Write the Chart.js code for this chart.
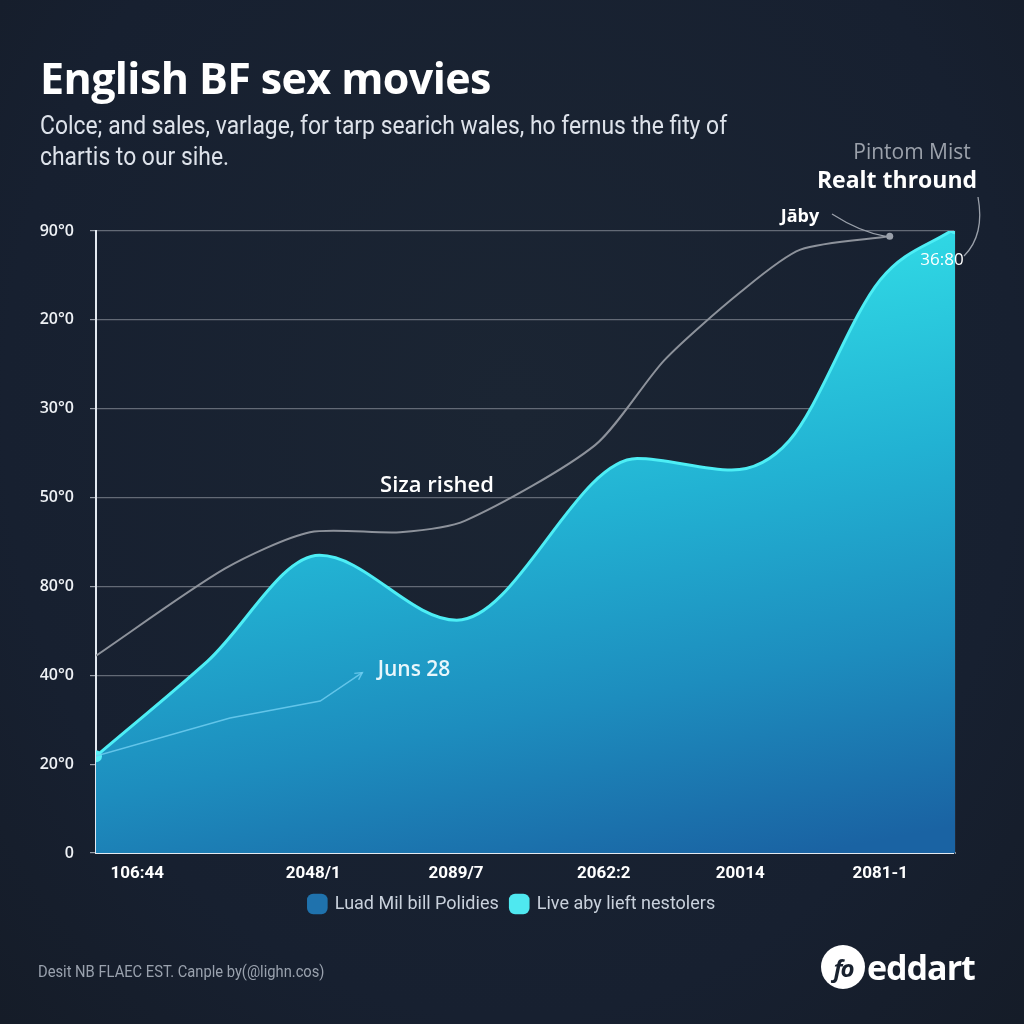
<!DOCTYPE html>
<html>
<head>
<meta charset="utf-8">
<script src="https://cdn.jsdelivr.net/npm/chart.js@4.4.1/dist/chart.umd.min.js"></script>
<style>
  html, body { margin: 0; padding: 0; background: #18212e; }
  #wrap { position: relative; width: 1024px; height: 1024px; overflow: hidden;
          background: radial-gradient(ellipse at 50% 40%, #1b2533 0%, #172030 70%, #151c28 100%); }
  #chart { position: absolute; left: 0; top: 0; }
  .title { position: absolute; left: 40px; top: 48px; color: #ffffff;
           font: 700 43px "Open Sans", sans-serif; letter-spacing: -0.6px; }
  .sub { position: absolute; left: 40px; top: 110px; color: #dde2ea; width: 860px;
         font: 400 26px Roboto, sans-serif; line-height: 31px;
         transform: scaleX(0.88); transform-origin: left top; }
  .foot { position: absolute; left: 38px; top: 962px; color: #9aa2ae;
          font: 400 16px Roboto, sans-serif; transform: scaleX(0.92); transform-origin: left top; }
  .logo { position: absolute; left: 821px; top: 944px; color: #fff; display: flex; align-items: center; }
  .logo .c { width: 44px; height: 44px; border-radius: 50%; background: #fff; color: #18212e;
             font: italic 700 24px "Open Sans", sans-serif; display: flex; align-items: center;
             justify-content: center; letter-spacing: -2px; }
  .logo .t { font: 700 34px "Open Sans", sans-serif; margin-left: 2px; letter-spacing: -1px; }
</style>
</head>
<body>
<div id="wrap">
  <canvas id="chart" width="1024" height="1024"></canvas>
  <div class="title">English BF sex movies</div>
  <div class="sub">Colce; and sales, varlage, for tarp searich wales, ho fernus the fity of<br>chartis to our sihe.</div>
  <div class="foot">Desit NB FLAEC EST. Canple by(@lighn.cos)</div>
  <div class="logo"><div class="c">fo</div><div class="t">eddart</div></div>
</div>
<script>
// Werte
const xTickPos = [0.48, 2.53, 4.19, 5.91, 7.5, 9.13];
const xTickLabels = ['106:44', '2048/1', '2089/7', '2062:2', '20014', '2081-1'];
const yTickLabels = ['0', '20°0', '40°0', '80°0', '50°0', '30°0', '20°0', '90°0'];

const areaX = [0, 1.3, 2.6, 4.2, 6.3, 7.4, 8.07, 9.13, 10];
const areaY = [1.09, 2.16, 3.35, 2.62, 4.44, 4.31, 4.64, 6.45, 7.03];

const greyX = [0, 1.5, 2.49, 3.54, 4.3, 5.81, 6.62, 7.5, 8.2, 9.24];
const greyY = [2.22, 3.2, 3.61, 3.61, 3.74, 4.59, 5.55, 6.31, 6.79, 6.94];

const blueX = [0, 1.56, 2.61, 3.1];
const blueY = [1.09, 1.52, 1.71, 2.03];

const legendNames = ['Luad Mil bill Polidies', 'Live aby lieft nestolers'];
const legendColors = ['#1f72ad', '#4fe8f0'];

const toPts = (xs, ys) => xs.map((x, i) => ({ x: x, y: ys[i] }));

// Texte im Diagramm
const notes = {
  siza: 'Siza rished',
  juns: 'Juns 28',
  jaby: 'Jāby',
  pintom: 'Pintom Mist',
  realt: 'Realt thround',
  val: '36:80'
};

const notePlugin = {
  id: 'notes',
  afterDatasetsDraw(chart) {
    const c = chart.ctx;
    const xs = chart.scales.x, ys = chart.scales.y;
    c.save();
    // Pfeil am Ende der blauen Linie
    const n = blueX.length - 1;
    const ax = xs.getPixelForValue(blueX[n]), ay = ys.getPixelForValue(blueY[n]);
    const bx = xs.getPixelForValue(blueX[n - 1]), by = ys.getPixelForValue(blueY[n - 1]);
    const ang = Math.atan2(ay - by, ax - bx);
    c.strokeStyle = 'rgba(110,205,240,0.85)';
    c.lineWidth = 1.5;
    c.beginPath();
    c.moveTo(ax - 8 * Math.cos(ang - 0.5), ay - 8 * Math.sin(ang - 0.5));
    c.lineTo(ax, ay);
    c.lineTo(ax - 8 * Math.cos(ang + 0.5), ay - 8 * Math.sin(ang + 0.5));
    c.stroke();

    // Verbindungslinien
    const gx = xs.getPixelForValue(greyX[greyX.length - 1]), gy = ys.getPixelForValue(greyY[greyY.length - 1]);
    c.strokeStyle = '#9aa0aa';
    c.lineWidth = 1.3;
    c.beginPath();
    c.moveTo(832, 214);
    c.quadraticCurveTo(860, 232, gx - 4, gy);
    c.stroke();
    c.beginPath();
    c.moveTo(978, 197);
    c.quadraticCurveTo(985, 235, 964, 256);
    c.stroke();

    c.textAlign = 'center';
    c.textBaseline = 'middle';
    c.fillStyle = '#ffffff';
    c.font = '600 22px "Open Sans", sans-serif';
    c.fillText(notes.siza, 437, 486);
    c.fillStyle = '#e8f6fb';
    c.font = '600 21px "Open Sans", sans-serif';
    c.fillText(notes.juns, 414, 670);
    c.fillStyle = '#ffffff';
    c.font = '700 18px "Open Sans", sans-serif';
    c.fillText(notes.jaby, 800, 217);
    c.fillStyle = '#9ba1ab';
    c.font = '400 21px "Open Sans", sans-serif';
    c.fillText(notes.pintom, 912, 153);
    c.fillStyle = '#ffffff';
    c.font = '700 23px "Open Sans", sans-serif';
    c.fillText(notes.realt, 897, 181);
    c.font = '400 17px "Open Sans", sans-serif';
    c.fillText(notes.val, 942, 260);
    c.restore();
  }
};

function areaFill(context) {
  const ca = context.chart.chartArea;
  if (!ca) return '#1fa3c8';
  const g = context.chart.ctx.createLinearGradient(ca.left + 600, ca.top, ca.left + 720, ca.bottom);
  g.addColorStop(0, '#33e0e8');
  g.addColorStop(0.4, '#22b2d3');
  g.addColorStop(0.7, '#1d8dbe');
  g.addColorStop(1, '#1a63a3');
  return g;
}

const ctx = document.getElementById('chart').getContext('2d');
new Chart(ctx, {
  type: 'line',
  data: {
    datasets: [
      {
        data: toPts(blueX, blueY),
        borderColor: 'rgba(110,205,240,0.85)',
        borderWidth: 1.5,
        pointRadius: 0,
        tension: 0,
        fill: false
      },
      {
        data: toPts(greyX, greyY),
        borderColor: '#8d929b',
        borderWidth: 2,
        tension: 0.25,
        pointRadius: c => (c.dataIndex === greyX.length - 1 ? 3.5 : 0),
        pointBackgroundColor: '#9aa0aa',
        pointBorderWidth: 0,
        fill: false
      },
      {
        data: toPts(areaX, areaY),
        borderColor: '#4deef5',
        borderWidth: 3,
        backgroundColor: areaFill,
        fill: 'origin',
        cubicInterpolationMode: 'monotone',
        pointRadius: c => (c.dataIndex === 0 || c.dataIndex === areaX.length - 1 ? 6 : 0),
        pointBackgroundColor: '#56eff6',
        pointBorderWidth: 0
      }
    ]
  },
  options: {
    responsive: false,
    animation: false,
    layout: { padding: { left: 0, right: 0, top: 231, bottom: 101 } },
    plugins: {
      title: { display: false },
      tooltip: { enabled: false },
      legend: {
        display: true,
        position: 'bottom',
        labels: {
          color: '#c9d1dc',
          font: { family: 'Roboto, sans-serif', size: 18 },
          usePointStyle: true,
          pointStyle: 'rectRounded',
          boxWidth: 17,
          boxHeight: 17,
          padding: 12,
          generateLabels: () => legendNames.map((name, i) => ({
            text: name,
            fillStyle: legendColors[i],
            strokeStyle: legendColors[i],
            fontColor: '#c9d1dc',
            lineWidth: 0,
            pointStyle: 'rectRounded',
            datasetIndex: i
          }))
        }
      }
    },
    scales: {
      x: {
        type: 'linear',
        min: 0,
        max: 10,
        afterBuildTicks: s => { s.ticks = xTickPos.map(v => ({ value: v })); },
        afterFit: s => { s.height = 30; },
        ticks: {
          color: '#ffffff',
          font: { family: 'Roboto, sans-serif', size: 17, weight: 'bold' },
          padding: 3,
          maxRotation: 0,
          autoSkip: false,
          callback: (v, i) => xTickLabels[i]
        },
        grid: { display: false },
        border: { display: true, color: '#e3e9f0', width: 2 }
      },
      y: {
        min: 0,
        max: 7,
        afterFit: s => { s.width = 96; },
        ticks: {
          stepSize: 1,
          color: '#eef1f5',
          font: { family: '"Open Sans", sans-serif', size: 16, weight: '600' },
          padding: 16,
          callback: (v, i) => yTickLabels[i]
        },
        grid: { color: '#636a76', lineWidth: 1.2, tickLength: 6, tickColor: '#9aa0aa' },
        border: { display: true, color: '#e3e9f0', width: 2 }
      },
      y2: {
        position: 'right',
        min: 0,
        max: 7,
        afterFit: s => { s.width = 69; },
        ticks: { display: false },
        grid: { display: false },
        border: { display: true, color: '#2a3443', width: 1.5 }
      }
    }
  },
  plugins: [notePlugin]
});
</script>
</body>
</html>
